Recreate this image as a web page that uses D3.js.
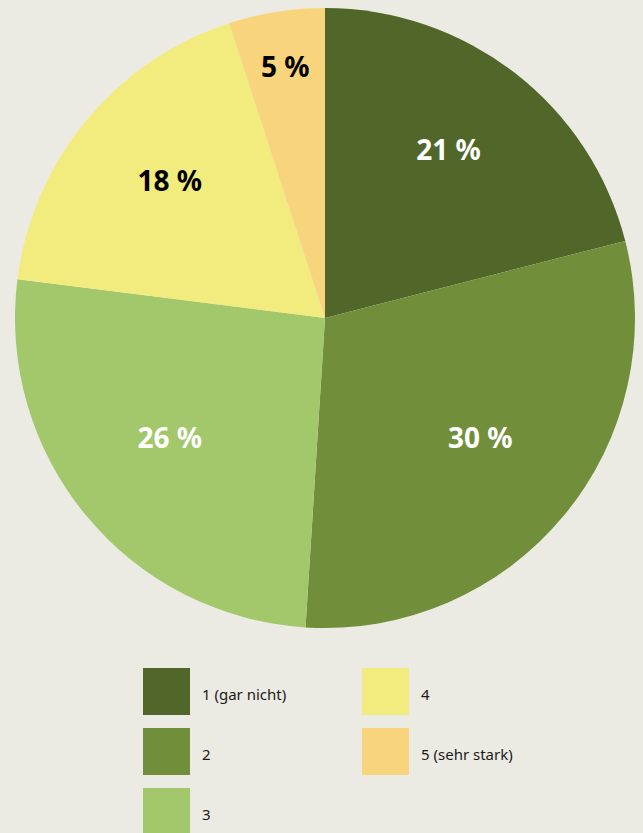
<!DOCTYPE html>
<html>
<head>
<meta charset="utf-8">
<script src="https://cdn.jsdelivr.net/npm/d3@7"></script>
<style>
  html, body { margin: 0; padding: 0; background: #ecebe3; }
  svg { display: block; }
</style>
</head>
<body>
<svg id="chart" width="643" height="833"></svg>
<script>
// Rating categories and their shares (percent)
const categories = ["1 (gar nicht)", "2", "3", "4", "5 (sehr stark)"];
const shares = [21, 30, 26, 18, 5];
const colors = ["#506729", "#718f3a", "#a3c76b", "#f2eb7e", "#f8d47d"];
const labelColors = ["#ffffff", "#ffffff", "#ffffff", "#000000", "#000000"];

const svg = d3.select("#chart");
const W = 643, H = 833;
const cx = 325, cy = 318, R = 310;

svg.append("rect").attr("width", W).attr("height", H).attr("fill", "#ecebe3");

const data = categories.map((c, i) => ({ cat: c, value: shares[i], i }));

const pie = d3.pie().value(d => d.value).sort(null);
const arcs = pie(data);
const arc = d3.arc().innerRadius(0).outerRadius(R);

const g = svg.append("g").attr("transform", `translate(${cx},${cy})`);

g.selectAll("path.slice")
  .data(arcs)
  .join("path")
  .attr("class", "slice")
  .attr("d", arc)
  .attr("fill", d => colors[d.data.i]);

// Labels sit further out for small slices
const labelArc = d3.arc().innerRadius(R * 0.65).outerRadius(R * 0.65);
const smallArc = d3.arc().innerRadius(R * 0.82).outerRadius(R * 0.82);

g.selectAll("text.val")
  .data(arcs)
  .join("text")
  .attr("class", "val")
  .attr("transform", d => {
    const p = (d.data.value < 10 ? smallArc : labelArc).centroid(d);
    return `translate(${p[0]},${p[1]})`;
  })
  .attr("text-anchor", "middle")
  .attr("dy", d => d.data.value < 10 ? "0.36em" : "0.05em")
  .attr("font-family", "'Noto Sans', 'Open Sans', sans-serif")
  .attr("font-weight", 700)
  .attr("font-size", 28)
  .attr("fill", d => labelColors[d.data.i])
  .text(d => d.data.value + " %");

// Legend: two columns
const legend = svg.append("g");
const sw = 47, rowH = 60, colX = [143, 362], legendTop = 668, perCol = 3;

const items = legend.selectAll("g.item")
  .data(data)
  .join("g")
  .attr("class", "item")
  .attr("transform", (d, i) => `translate(${colX[Math.floor(i / perCol)]},${legendTop + (i % perCol) * rowH})`);

items.append("rect")
  .attr("width", sw).attr("height", sw)
  .attr("fill", d => colors[d.i]);

items.append("text")
  .attr("x", sw + 12)
  .attr("y", sw / 2 + 8)
  .attr("font-family", "'Noto Sans', 'Open Sans', sans-serif")
  .attr("font-size", 15)
  .attr("fill", "#1a1a1a")
  .text(d => d.cat);
</script>
</body>
</html>
